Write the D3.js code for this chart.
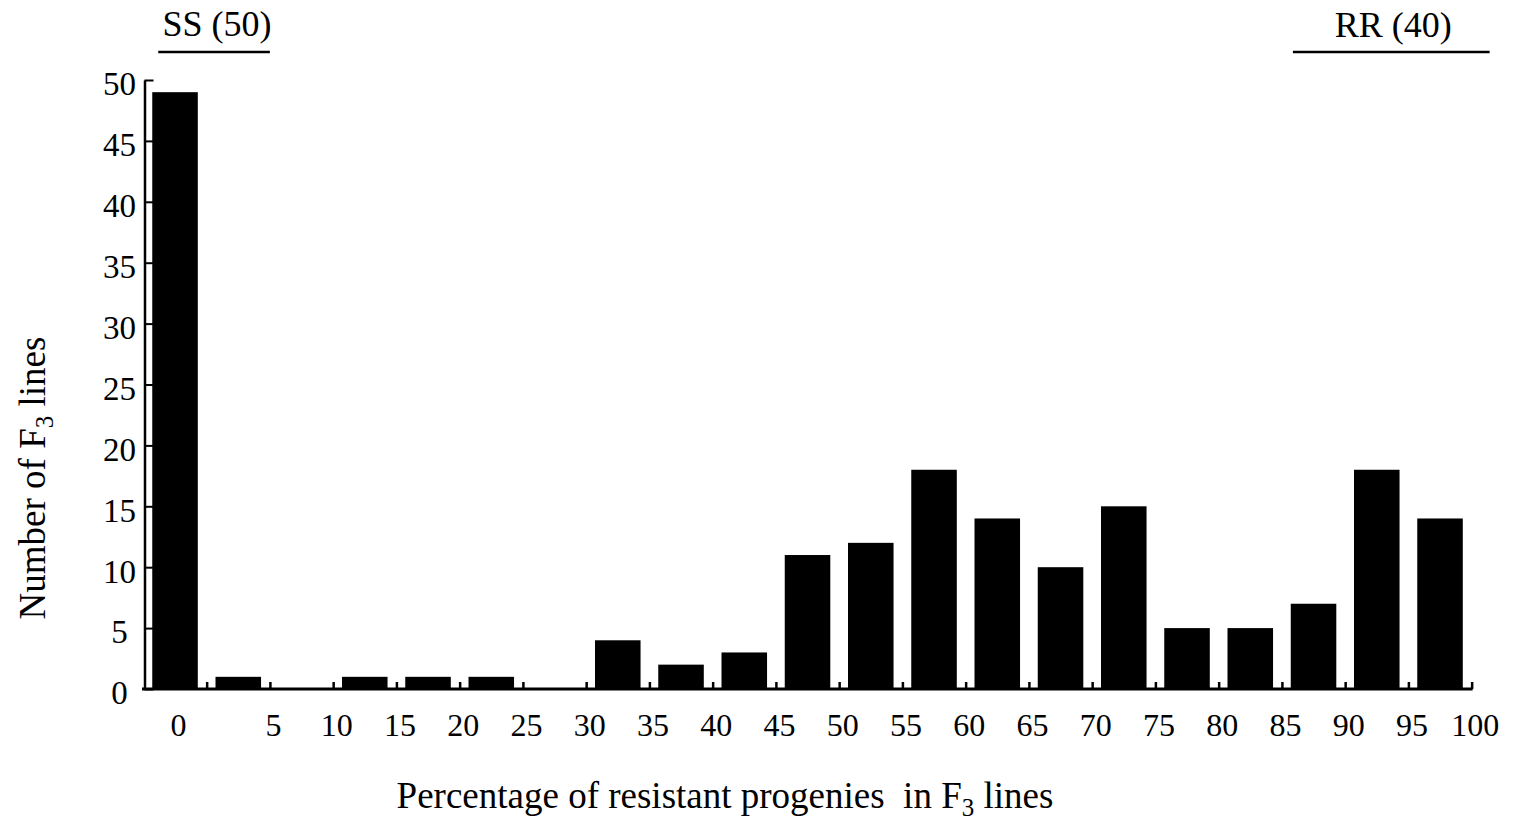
<!DOCTYPE html>
<html>
<head>
<meta charset="utf-8">
<script src="https://cdn.jsdelivr.net/npm/d3@7/dist/d3.min.js"></script>
<style>
  html, body { margin: 0; padding: 0; background: #fff; }
  svg { display: block; }
  text { font-family: "Liberation Serif", "Times New Roman", serif; fill: #000; }
</style>
</head>
<body>
<svg id="chart" width="1513" height="820"></svg>
<script>
// ---- data ----
const categories = ["0", "0-5", "5-10", "10-15", "15-20", "20-25", "25-30", "30-35", "35-40", "40-45",
  "45-50", "50-55", "55-60", "60-65", "65-70", "70-75", "75-80", "80-85", "85-90", "90-95", "95-100"];
const counts = [49, 1, 0, 1, 1, 1, 0, 4, 2, 3, 11, 12, 18, 14, 10, 15, 5, 5, 7, 18, 14];
const xTickValues = [0, 5, 10, 15, 20, 25, 30, 35, 40, 45, 50, 55, 60, 65, 70, 75, 80, 85, 90, 95, 100];
const yTickValues = [0, 5, 10, 15, 20, 25, 30, 35, 40, 45, 50];
const groupLabels = ["SS (50)", "RR (40)"];

// ---- layout ----
const svg = d3.select("#chart");
const x0 = 143.4, x1 = 1471.65;
const yBase = 689, yTop = 80;

const x = d3.scaleBand().domain(categories).range([x0, x1]).paddingInner(0.28).paddingOuter(0.14);
const step = x.step();
// percentage scale: boundary between first and second bar is 0 %, each band is 5 %
const xPct = d3.scaleLinear().domain([0, 100]).range([x0 + step, x0 + 21 * step]);
const y = d3.scaleLinear().domain([0, 50]).range([yBase, yTop]);

// bars
svg.append("g").selectAll("rect")
  .data(counts)
  .join("rect")
  .attr("x", (d, i) => x(categories[i]))
  .attr("width", x.bandwidth())
  .attr("y", d => y(d))
  .attr("height", d => yBase - y(d))
  .attr("fill", "#000");

// y axis
const yAxis = svg.append("g")
  .attr("transform", "translate(144.5,0)")
  .call(d3.axisLeft(y).tickValues(yTickValues).tickSize(-9).tickSizeOuter(0));
yAxis.select(".domain").attr("stroke", "#000").attr("stroke-width", 2.5);
yAxis.selectAll(".tick line").attr("stroke", "#000").attr("stroke-width", 2);
yAxis.selectAll(".tick text")
  .attr("x", -25).attr("dy", "0.45em")
  .attr("text-anchor", "middle")
  .style("font-size", "33px")
  .style("font-family", "'Liberation Serif', serif");

// x axis
const xAxis = svg.append("g")
  .attr("transform", `translate(0,${yBase})`)
  .call(d3.axisBottom(xPct).tickValues(xTickValues).tickSize(-7).tickSizeOuter(0).tickFormat(d3.format("d")));
xAxis.select(".domain").remove();
xAxis.append("line")
  .attr("x1", 142).attr("x2", xPct(100) + 1)
  .attr("y1", 0).attr("y2", 0)
  .attr("stroke", "#000").attr("stroke-width", 3);
xAxis.selectAll(".tick line").attr("stroke", "#000").attr("stroke-width", 2.5);
xAxis.selectAll(".tick text")
  .attr("y", 47).attr("dy", 0)
  .attr("dx", d => d === 0 ? 0 : 3)
  .style("font-size", "32px")
  .style("font-family", "'Liberation Serif', serif");
// move "0" label under the first bar
xAxis.selectAll(".tick").filter(d => d === 0).select("text")
  .attr("x", x(categories[0]) + x.bandwidth() / 2 + 3 - xPct(0));

// axis titles
const xt = svg.append("text")
  .attr("x", 725).attr("y", 808)
  .attr("text-anchor", "middle")
  .style("font-size", "37px");
xt.append("tspan").text("Percentage of resistant progenies\u00A0 in F");
xt.append("tspan").attr("dy", 8).style("font-size", "25px").text("3");
xt.append("tspan").attr("dy", -8).text(" lines");

const yt = svg.append("text")
  .attr("transform", "translate(45,478) rotate(-90)")
  .attr("text-anchor", "middle")
  .style("font-size", "37px");
yt.append("tspan").text("Number of F");
yt.append("tspan").attr("dy", 8).style("font-size", "25px").text("3");
yt.append("tspan").attr("dy", -8).text(" lines");

// group annotations
const groups = [
  { label: groupLabels[0], xa: x(categories[0]) + 6, xb: xPct(5), ty: 36 },
  { label: groupLabels[1], xa: xPct(85) + 11, xb: xPct(100) + 18, ty: 37 }
];
groups.forEach(g => {
  svg.append("line")
    .attr("x1", g.xa).attr("x2", g.xb)
    .attr("y1", 52).attr("y2", 52)
    .attr("stroke", "#000").attr("stroke-width", 2.5);
  svg.append("text")
    .attr("x", (g.xa + g.xb) / 2 + (g.label === groupLabels[1] ? 2 : 3))
    .attr("y", g.ty)
    .attr("text-anchor", "middle")
    .style("font-size", "36px")
    .text(g.label);
});
</script>
</body>
</html>
